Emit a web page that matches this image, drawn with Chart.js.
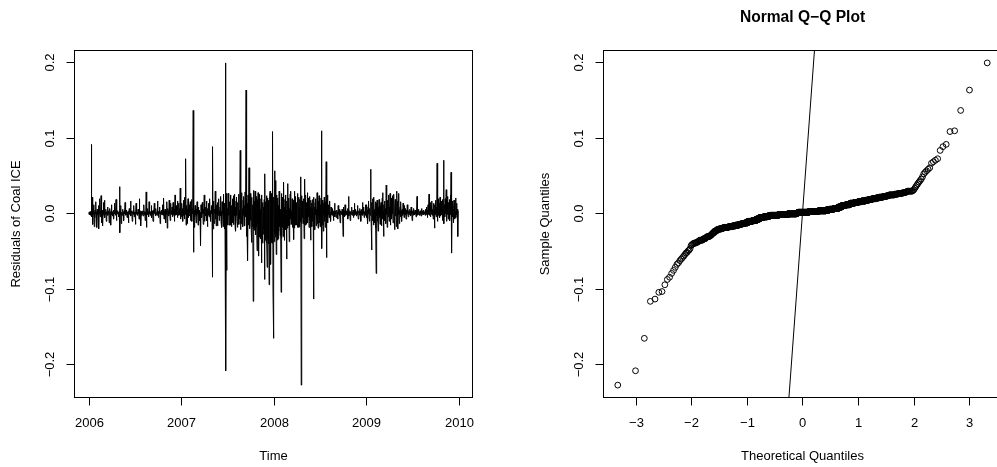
<!DOCTYPE html>
<html>
<head>
<meta charset="utf-8">
<script src="https://cdn.jsdelivr.net/npm/chart.js@4"></script>
<style>
  html, body { margin: 0; padding: 0; background: #fff; width: 997px; height: 467px; overflow: hidden; }
  canvas { position: absolute; top: 0; }
  #chart-ts { left: 0; }
  #chart-qq { left: 500px; }
</style>
</head>
<body>
<canvas id="chart-ts" width="500" height="467"></canvas>
<canvas id="chart-qq" width="510" height="467"></canvas>
<script>
// residuals of Coal ICE, one array per year
const res2006 = [
  .001,-.002,.001,-.002,.002,-.003,.001,-.001,.091,-.005,.021,-.011,.003,-.015,.006,
  -.002,.011,-.018,.002,-.006,.004,-.001,.015,-.010,.002,-.019,.005,-.002,.001,-.004,
  .010,-.021,.003,-.001,.019,-.005,.002,-.003,.023,-.013,.001,-.001,.004,-.017,.002,
  -.002,.014,-.003,.001,.017,-.006,.001,-.002,.005,-.011,.002,.000,-.001,.008,-.003,
  .002,-.001,.003,-.013,.001,.006,-.002,.001,-.016,.003,.011,-.002,.000,-.004,.002,
  -.001,.004,-.008,.001,.013,-.001,.002,-.003,.001,.018,-.010,.001,-.002,.003,-.001,
  .002,-.002,.001,-.005,.001,.035,-.026,.003,-.002,.010,-.014,.001,.000,-.003,.002,
  .005,-.001,.001,-.010,.003,-.001,.002,.014,-.003,.001,-.002,.000,.004,-.006,.001,
  -.001,.002,-.013,.001,.001,.006,-.002,.001,-.001,.016,-.004,.002,-.001,.003,-.011,
  .001,.000,.003,-.002,.010,-.005,.001,-.001,.002,-.015,.002,.013,-.001,.001,-.003,
  .001,-.002,.005,-.001,.002,-.008,.019,-.002,.001,.003,-.001,-.017,.002,.001,-.003,
  .002,-.001,.003,-.004,.001,.011,-.002,.000,.002,-.010,.001,-.003,.028,-.019,.003,
  -.001,.006,-.002,.001,.002,-.005,.015,-.001,.001,-.003,.002,.000,-.002,.010,-.006,
  .003,-.001,.001,-.011,.004,.001,-.002,.013,-.001,.002,.000,-.004,.006,-.002,.001,
  .001,-.003,.016,-.001,.002,-.006,.001,.003,-.001,.008,-.014,.002,-.001,.001,-.002,
  .004,-.002,.001,.011,-.003,.001,.020,-.008,.002,-.001,.005,-.001,.002,-.013,.003,
  -.002,.015,-.020,.002,.006,-.001,.003,-.004,.017,-.001,.002,-.010,.001,.013,-.002,
  .003,-.001,.008,-.005,.002,.014,-.003,.001,.005,-.011,.001,.024,-.003,.002,-.001,
  .010,-.002,.001,.016,-.006,.003,-.001,.013,-.003,.002,.006,-.002,.033,-.008,.004
];
const res2007 = [
  .002,-.005,.013,-.002,.006,-.011,.001,.017,-.003,.003,-.008,.021,-.002,.002,.072,
  -.016,.010,-.003,.005,-.014,.001,.019,-.006,.003,-.002,.011,-.004,.001,.015,-.010,
  .003,-.002,.018,-.011,.006,-.001,.024,.136,-.052,.013,-.019,.004,-.005,.010,-.002,
  .002,-.013,.005,-.003,.015,-.001,.002,-.016,.008,-.003,.001,.004,-.010,.001,-.017,
  -.043,.011,-.002,.003,-.006,.014,-.001,.002,-.015,.005,-.001,.024,-.011,.003,.001,
  -.004,.008,-.002,.016,-.010,.002,-.018,.006,.001,-.003,.013,-.005,.001,.019,-.003,
  .002,-.011,.004,-.001,.010,-.003,-.085,.088,-.021,.016,-.006,.002,-.014,.005,-.001,
  .029,-.008,.003,-.017,.011,-.002,.005,-.017,.014,-.003,.001,.019,-.010,.003,-.002,
  .008,-.004,.022,-.013,.002,-.019,.015,-.001,.006,-.018,.025,-.005,.002,-.021,.013,
  -.010,.017,.199,-.209,.026,-.076,.021,-.014,.006,-.016,.026,-.003,.011,-.016,.002,
  .015,-.006,.024,-.016,.003,-.018,.010,-.002,.019,-.013,.002,.023,-.015,.005,-.004,
  .025,-.018,.008,-.024,.016,-.003,.021,-.011,.002,-.019,.014,-.001,.025,-.015,.004,
  -.008,.018,.083,-.022,.011,-.014,.003,.027,-.013,.006,-.018,.017,-.003,.022,-.017,
  .010,-.017,.028,-.005,.015,.163,-.031,.020,-.022,.013,-.063,.024,-.016,.004,.060,
  -.021,.014,-.019,.026,-.010,.006,-.026,-.039,.021,-.018,.011,-.005,-.117,.030,-.021,
  .016,-.023,.003,.029,-.029,.010,-.018,.022,-.019,-.050,.018,-.014,.027,-.027,-.057,
  .013,-.032,.025,-.019,.005,-.034,.019,-.024,-.066,.024,-.017,-.040,.014,-.028,.008,
  -.021,.018,-.088,.052,-.036,.015,-.030,-.037,.023,-.040,-.072,.020,-.034,.012,-.041,
  .017,-.095,-.036,.022,.029,-.042,-.068,.014,-.039,.026,-.040,.019,.108,-.104,.021
];
const res2008 = [
  -.166,.018,-.038,.056,-.027,.043,-.032,.015,-.055,.024,-.029,.012,-.036,.020,-.034,
  .010,-.024,.029,-.018,.022,-.030,.005,-.021,-.105,.026,-.033,.014,-.019,.021,-.031,
  -.015,.041,-.026,.008,-.036,.018,-.011,.024,-.022,.004,-.061,.016,-.020,.039,-.017,
  .011,-.017,.020,-.038,.006,-.016,.025,-.008,.029,-.015,.003,-.014,.019,-.019,.010,
  -.006,.017,-.035,.013,-.020,.029,-.005,.022,-.016,.003,-.016,.014,-.010,.026,-.019,
  .015,-.004,.021,-.019,.008,-.018,.018,-.011,.005,.048,-.228,.023,-.014,.016,-.006,
  .011,-.014,.004,.019,-.034,.010,.045,-.016,.024,-.008,.006,-.015,.014,-.003,.027,
  -.013,.020,-.005,.016,-.019,.003,.022,-.010,.008,-.036,.017,-.004,.013,-.018,.006,
  -.011,.018,-.003,-.114,.021,-.015,.008,-.022,.014,-.002,.019,-.017,.005,-.008,.027,
  -.014,.010,-.020,.016,-.003,.023,-.013,.004,-.018,.011,-.006,.020,-.010,.109,-.047,
  .017,-.016,.006,-.024,.013,-.003,.021,-.011,.003,-.019,.015,-.005,.068,-.059,.014,
  -.008,.024,-.013,.004,-.002,.011,-.006,.002,.016,-.004,.001,-.011,.008,-.002,.003,
  -.003,.006,-.001,.002,-.010,.003,.001,-.002,.013,-.005,.001,.003,-.001,-.006,.002,
  .004,-.002,.001,-.008,.010,-.001,.002,-.003,.005,.000,-.013,.002,.003,-.002,.001,
  -.001,.005,-.003,.001,-.031,.008,-.002,.003,.001,-.005,.011,-.001,.002,-.003,.001,
  .003,-.002,.001,.006,-.008,.002,.022,-.004,.001,-.001,.003,-.010,.002,.000,-.002,
  .002,.008,-.003,.001,-.001,.004,-.006,.002,.001,.013,-.003,.001,-.002,.005,-.001,
  .002,-.004,.001,.010,-.002,.001,-.008,.003,.000,.002,-.003,.006,-.001,.003,-.011,
  .001,.005,-.002,.001,.014,-.003,.002,-.001,.008,-.006,.002,.001,-.003,.011,-.002
];
const res2009 = [
  .002,-.006,.011,-.002,.004,-.014,.008,-.001,.016,-.005,.002,-.011,.006,-.003,.058,
  .010,-.018,-.049,.014,-.003,.019,-.010,.003,-.016,.021,-.002,.005,-.013,.001,.015,
  -.020,-.080,.013,-.004,.017,-.011,.002,-.024,.008,-.002,.018,-.006,.003,-.015,.010,
  -.003,.014,-.017,.005,-.001,.020,.027,-.008,.003,-.031,.011,-.003,.016,-.010,.002,
  .006,-.014,.037,-.002,.013,-.019,.003,.017,-.005,.001,.024,-.011,.008,-.002,.026,
  -.016,.011,-.003,.020,-.008,.004,-.001,.023,-.013,.015,-.003,.025,-.006,-.022,.010,
  .018,-.004,.013,-.018,.003,.029,-.010,.016,-.021,.006,-.002,.026,-.014,.004,-.001,
  .008,-.005,.015,-.002,.003,-.011,.005,.001,-.003,.013,-.001,.002,-.006,.010,-.002,
  .003,-.002,.006,-.008,.001,.004,-.003,.011,-.001,.002,-.005,.003,.000,-.002,.005,
  -.001,.002,-.004,.001,.008,-.002,.001,-.010,.003,.000,.002,-.003,.006,-.001,.001,
  -.002,.004,-.001,.002,-.005,.003,.001,.022,-.003,.001,-.002,.005,-.001,.002,.000,
  .002,-.003,.003,-.001,.001,-.004,.006,.000,-.002,.003,-.001,.001,.004,-.002,.001,
  -.001,.002,-.003,.005,.001,-.002,.008,-.001,.003,-.006,.002,.011,-.002,.003,.025,
  -.003,.006,-.001,.014,-.005,.002,.010,-.002,.016,-.003,.001,.005,-.008,.013,-.001,
  .004,-.020,.011,-.002,.017,.002,-.005,.008,-.001,.066,-.011,.015,-.003,.006,.019,
  -.003,.013,-.006,.021,.001,-.004,.010,.016,-.002,.005,-.010,.018,.002,-.003,.070,
  -.014,.011,.003,-.005,.019,-.001,.008,.031,-.011,.004,.015,-.002,.022,-.008,.006,
  .014,-.003,.018,-.010,.005,.024,-.002,.054,-.015,-.053,.016,-.005,.010,.002,-.013,
  .006,.017,-.003,.011,-.008,.002,.020,-.006,.003,.013,-.002,.005,-.011,-.031,.003
];
const years = [2006, 2007, 2008, 2009];

// axis ticks
const yearTicks = [2006, 2007, 2008, 2009, 2010];
const residTicks = [-0.2, -0.1, 0, 0.1, 0.2];
const theoTicks = [-3, -2, -1, 0, 1, 2, 3];

// reference line drawn on the Q-Q panel
const qqLineIntercept = 0;
const qqLineSlope = 1;

const FONT = '"Liberation Sans", Arial, Helvetica, sans-serif';

function minus(s) {
  return String(s).replace('-', '\u2212');
}

// inverse normal cdf (Acklam)
function qnorm(p) {
  const a = [-3.969683028665376e+01, 2.209460984245205e+02, -2.759285104469687e+02, 1.383577518672690e+02, -3.066479806614716e+01, 2.506628277459239e+00];
  const b = [-5.447609879822406e+01, 1.615858368580409e+02, -1.556989798598866e+02, 6.680131188771972e+01, -1.328068155288572e+01];
  const c = [-7.784894002430293e-03, -3.223964580411365e-01, -2.400758277161838e+00, -2.549732539343734e+00, 4.374664141464968e+00, 2.938163982698783e+00];
  const d = [7.784695709041462e-03, 3.224671290700398e-01, 2.445134137142996e+00, 3.754408661907416e+00];
  const lo = 0.02425;
  if (p < lo) {
    const q = Math.sqrt(-2 * Math.log(p));
    return (((((c[0] * q + c[1]) * q + c[2]) * q + c[3]) * q + c[4]) * q + c[5]) / ((((d[0] * q + d[1]) * q + d[2]) * q + d[3]) * q + 1);
  }
  if (p > 1 - lo) return -qnorm(1 - p);
  const q = p - 0.5;
  const r = q * q;
  return (((((a[0] * r + a[1]) * r + a[2]) * r + a[3]) * r + a[4]) * r + a[5]) * q / (((((b[0] * r + b[1]) * r + b[2]) * r + b[3]) * r + b[4]) * r + 1);
}

// R-style range with 4% padding
function padRange(vals) {
  const lo = Math.min(...vals);
  const hi = Math.max(...vals);
  const pad = (hi - lo) * 0.04;
  return [lo - pad, hi + pad];
}

const tsPoints = [];
[res2006, res2007, res2008, res2009].forEach((arr, k) => {
  arr.forEach((v, j) => tsPoints.push({ x: years[k] + j / arr.length, y: v }));
});
const resid = tsPoints.map((p) => p.y);
const n = resid.length;
const sorted = [...resid].sort((a, b) => a - b);
const qqPoints = sorted.map((v, i) => ({ x: qnorm((i + 0.5) / n), y: v }));

const [tMin, tMax] = padRange(tsPoints.map((p) => p.x));
const [yMin, yMax] = padRange(resid);
const [qMin, qMax] = padRange(qqPoints.map((p) => p.x));

// box, ticks and labels in the style of base R graphics
const rAxes = {
  id: 'rAxes',
  afterDraw(chart, args, opts) {
    const { ctx, chartArea: a, scales } = chart;
    const L = Math.round(a.left) + 0.5;
    const R = Math.round(a.right) - 0.5;
    const T = Math.round(a.top) + 0.5;
    const B = Math.round(a.bottom) - 0.5;
    ctx.save();
    ctx.strokeStyle = '#000';
    ctx.fillStyle = '#000';
    ctx.lineWidth = 1;
    ctx.strokeRect(L, T, R - L, B - T);
    ctx.font = '13px ' + FONT;
    ctx.textAlign = 'center';
    ctx.textBaseline = 'middle';

    opts.xTicks.forEach((v) => {
      const px = Math.round(scales.x.getPixelForValue(v)) + 0.5;
      ctx.beginPath();
      ctx.moveTo(px, B);
      ctx.lineTo(px, B + 8);
      ctx.stroke();
      ctx.fillText(minus(v), px, B + 26);
    });

    opts.yTicks.forEach((v) => {
      const py = Math.round(scales.y.getPixelForValue(v)) + 0.5;
      ctx.beginPath();
      ctx.moveTo(L, py);
      ctx.lineTo(L - 8, py);
      ctx.stroke();
      ctx.save();
      ctx.translate(L - 24, py);
      ctx.rotate(-Math.PI / 2);
      ctx.fillText(minus(v.toFixed(1)), 0, 0);
      ctx.restore();
    });

    const midX = (a.left + a.right) / 2;
    const midY = (a.top + a.bottom) / 2;
    ctx.fillText(opts.xTitle, midX, B + 59);
    ctx.save();
    ctx.translate(L - 58, midY);
    ctx.rotate(-Math.PI / 2);
    ctx.fillText(opts.yTitle, 0, 0);
    ctx.restore();

    if (opts.main) {
      ctx.font = 'bold 15.6px ' + FONT;
      ctx.fillText(opts.main, midX, 18);
    }
    ctx.restore();
  }
};

const baseOptions = {
  responsive: false,
  animation: false,
  events: [],
  plugins: { legend: { display: false }, tooltip: { enabled: false } }
};

new Chart(document.getElementById('chart-ts'), {
  type: 'line',
  data: {
    datasets: [
      {
        data: tsPoints,
        borderColor: '#000',
        borderWidth: 1,
        pointRadius: 0,
        tension: 0,
        fill: false
      }
    ]
  },
  options: {
    ...baseOptions,
    layout: { padding: { left: 74, right: 27, top: 50, bottom: 69 } },
    scales: {
      x: { type: 'linear', display: false, min: tMin, max: tMax },
      y: { type: 'linear', display: false, min: yMin, max: yMax }
    },
    plugins: {
      ...baseOptions.plugins,
      rAxes: { xTicks: yearTicks, yTicks: residTicks, xTitle: 'Time', yTitle: 'Residuals of Coal ICE' }
    }
  },
  plugins: [rAxes]
});

new Chart(document.getElementById('chart-qq'), {
  type: 'scatter',
  data: {
    datasets: [
      {
        type: 'line',
        data: [
          { x: qMin, y: qqLineIntercept + qqLineSlope * qMin },
          { x: qMax, y: qqLineIntercept + qqLineSlope * qMax }
        ],
        borderColor: '#000',
        borderWidth: 1,
        pointRadius: 0,
        fill: false
      },
      {
        data: qqPoints,
        pointStyle: 'circle',
        pointRadius: 2.9,
        pointBorderWidth: 1,
        pointBackgroundColor: 'rgba(0,0,0,0)',
        pointBorderColor: '#000',
        showLine: false
      }
    ]
  },
  options: {
    ...baseOptions,
    layout: { padding: { left: 103, right: 8, top: 50, bottom: 69 } },
    scales: {
      x: { type: 'linear', display: false, min: qMin, max: qMax },
      y: { type: 'linear', display: false, min: yMin, max: yMax }
    },
    plugins: {
      ...baseOptions.plugins,
      rAxes: { xTicks: theoTicks, yTicks: residTicks, xTitle: 'Theoretical Quantiles', yTitle: 'Sample Quantiles', main: 'Normal Q\u2212Q Plot' }
    }
  },
  plugins: [rAxes]
});
</script>
</body>
</html>
